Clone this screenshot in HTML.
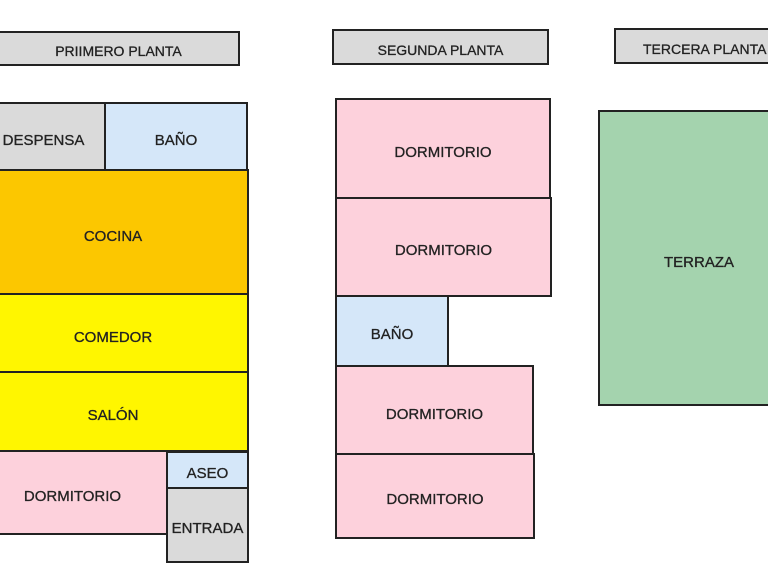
<!DOCTYPE html>
<html><head><meta charset="utf-8"><style>
body{margin:0;width:768px;height:576px;background:#fff;position:relative;overflow:hidden;font-family:"Liberation Sans",Arial,sans-serif}
.b{position:absolute;box-sizing:border-box;border:2px solid #222;display:flex;align-items:center;justify-content:center;font-size:15px;color:#222;padding-top:7px;-webkit-text-stroke:0.3px #222;white-space:nowrap;overflow:hidden}
.h{font-size:14px}
.g{background:#dadada}.bl{background:#d5e7f9}.o{background:#fcc700}.y{background:#fff600}.p{background:#fdd1dc}.gr{background:#a4d3ae}
</style></head><body>
<div class="b g h" style="left:-3px;top:31px;width:243px;height:35px;padding-top:5px">PRIIMERO PLANTA</div>
<div class="b g h" style="left:332px;top:29px;width:217px;height:36px;padding-top:5px">SEGUNDA PLANTA</div>
<div class="b g h" style="left:614px;top:28px;width:160px;height:36px;justify-content:flex-start;padding-left:27px;padding-top:5px">TERCERA PLANTA</div>

<div class="b g" style="left:-3px;top:102px;width:109px;height:69px;padding-right:16px">DESPENSA</div>
<div class="b bl" style="left:104px;top:102px;width:144px;height:69px">BAÑO</div>
<div class="b o" style="left:-3px;top:169px;width:252px;height:127px;padding-right:20px">COCINA</div>
<div class="b y" style="left:-3px;top:293px;width:252px;height:81px;padding-right:20px">COMEDOR</div>
<div class="b y" style="left:-3px;top:371px;width:252px;height:81px;padding-right:20px">SALÓN</div>
<div class="b p" style="left:-3px;top:450px;width:171px;height:85px;padding-right:20px">DORMITORIO</div>
<div class="b bl" style="left:166px;top:451px;width:83px;height:38px">ASEO</div>
<div class="b g" style="left:166px;top:487px;width:83px;height:76px">ENTRADA</div>

<div class="b p" style="left:335px;top:98px;width:216px;height:101px">DORMITORIO</div>
<div class="b p" style="left:335px;top:197px;width:217px;height:100px">DORMITORIO</div>
<div class="b bl" style="left:335px;top:295px;width:114px;height:72px">BAÑO</div>
<div class="b p" style="left:335px;top:365px;width:199px;height:91px">DORMITORIO</div>
<div class="b p" style="left:335px;top:453px;width:200px;height:86px">DORMITORIO</div>

<div class="b gr" style="left:598px;top:110px;width:176px;height:296px;justify-content:flex-start;padding-left:64px;padding-top:8px">TERRAZA</div>
</body></html>
